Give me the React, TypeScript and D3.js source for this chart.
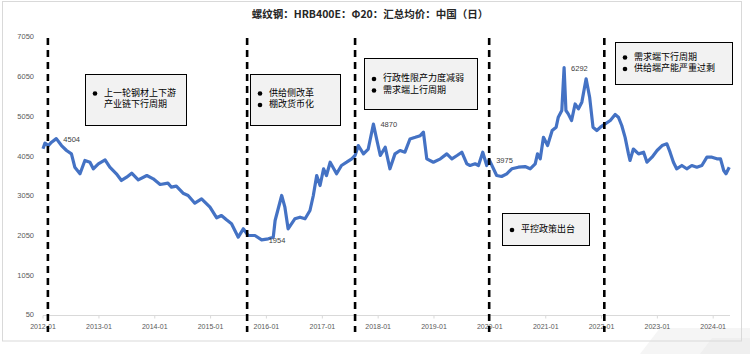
import * as d3 from 'd3';

const title = '螺纹钢：HRB400E：Φ20：汇总均价：中国（日）';

const dates = [
  '2012-01-01', '2012-01-14', '2012-02-05', '2012-02-26', '2012-03-28', '2012-05-01', '2012-06-03', '2012-07-05',
  '2012-07-27', '2012-08-30', '2012-10-01', '2012-11-03', '2012-11-25', '2012-12-28', '2013-02-10', '2013-03-13',
  '2013-04-25', '2013-05-28', '2013-07-01', '2013-08-03', '2013-09-15', '2013-11-10', '2013-12-22', '2014-02-05',
  '2014-03-28', '2014-04-20', '2014-05-22', '2014-07-05', '2014-08-07', '2014-09-20', '2014-11-03', '2014-12-28',
  '2015-02-10', '2015-03-13', '2015-04-15', '2015-05-18', '2015-07-01', '2015-08-03', '2015-09-04', '2015-10-18',
  '2015-12-01', '2016-01-13', '2016-02-15', '2016-02-27', '2016-04-10', '2016-05-01', '2016-05-22', '2016-07-05',
  '2016-08-08', '2016-09-10', '2016-10-12', '2016-11-03', '2016-11-25', '2016-12-17', '2017-01-09', '2017-01-28',
  '2017-02-21', '2017-04-04', '2017-05-06', '2017-06-09', '2017-07-12', '2017-08-03', '2017-08-24', '2017-09-27',
  '2017-10-28', '2017-12-01', '2017-12-24', '2018-01-15', '2018-02-16', '2018-03-19', '2018-04-21', '2018-05-24',
  '2018-06-25', '2018-07-28', '2018-09-01', '2018-10-03', '2018-10-24', '2018-11-15', '2018-12-28', '2019-02-12',
  '2019-03-26', '2019-04-28', '2019-06-01', '2019-07-02', '2019-08-04', '2019-08-25', '2019-09-27', '2019-10-19',
  '2019-11-16', '2019-12-12', '2019-12-28', '2020-02-15', '2020-03-18', '2020-04-21', '2020-05-24', '2020-07-06',
  '2020-08-19', '2020-09-21', '2020-10-24', '2020-11-08', '2020-11-26', '2020-12-17', '2021-01-13', '2021-02-12',
  '2021-03-10', '2021-03-24', '2021-04-16', '2021-05-01', '2021-05-13', '2021-05-28', '2021-06-19', '2021-07-12',
  '2021-08-03', '2021-08-25', '2021-09-22', '2021-10-15', '2021-11-06', '2021-12-01', '2021-12-25', '2022-01-25',
  '2022-02-27', '2022-03-31', '2022-04-21', '2022-05-13', '2022-06-04', '2022-06-26', '2022-07-06', '2022-07-28',
  '2022-08-31', '2022-10-03', '2022-10-25', '2022-11-27', '2022-12-30', '2023-02-01', '2023-03-04', '2023-03-25',
  '2023-04-16', '2023-05-07', '2023-06-10', '2023-07-12', '2023-08-14', '2023-09-16', '2023-10-19', '2023-11-21',
  '2023-12-24', '2024-01-25', '2024-02-18', '2024-03-10', '2024-03-25', '2024-04-15',
];

const prices = [
  4250, 4390, 4330, 4413, 4504, 4330, 4205, 4120,
  3784, 3618, 3953, 3910, 3744, 3870, 3970, 3784,
  3618, 3450, 3533, 3634, 3466, 3575, 3492, 3349,
  3382, 3281, 3306, 3130, 3072, 2878, 2988, 2778,
  2510, 2568, 2460, 2359, 2022, 2233, 2064, 2064,
  1954, 1980, 2022, 2442, 3072, 2778, 2233, 2485,
  2526, 2485, 2694, 3072, 3575, 3323, 3744, 3575,
  3910, 3618, 3827, 3910, 3995, 4079, 4330, 4120,
  4242, 4870, 4456, 4079, 4288, 3744, 4120, 4205,
  4162, 4494, 4536, 4578, 4666, 3995, 3910, 3995,
  4120, 3995, 4079, 4162, 3870, 3827, 3870, 3827,
  4162, 3827, 3975, 3575, 3550, 3618, 3744, 3784,
  3800, 3744, 3870, 4120, 3995, 4536, 4330, 4708,
  4792, 5043, 5212, 6292, 5212, 5127, 4960, 5376,
  5254, 5422, 6010, 5547, 4792, 4708, 4792, 4877,
  4960, 5111, 5043, 4834, 4536, 4120, 3953, 4242,
  4120, 4162, 3910, 4036, 4205, 4330, 4374, 4162,
  3910, 3744, 3827, 3744, 3827, 3784, 3827, 4036,
  4036, 3995, 3995, 3700, 3618, 3784,
];

// points that carry a value label
const labelledDates = ['2012-03-28', '2015-12-01', '2017-12-01', '2019-12-28', '2021-05-01'];

// cycle boundaries (dashed verticals)
const cycleBreaks = ['2012-02-02', '2015-08-28', '2017-08-03', '2019-12-28', '2022-01-19'];

const yTicks = [50, 1050, 2050, 3050, 4050, 5050, 6050, 7050];
const xTickYears = ['2012', '2013', '2014', '2015', '2016', '2017', '2018', '2019', '2020', '2021', '2022', '2023', '2024'];

const noteTexts = [
  [['上一轮钢材上下游', '产业链下行周期']],
  [['供给侧改革'], ['棚改货币化']],
  [['行政性限产力度减弱'], ['需求端上行周期']],
  [['平控政策出台']],
  [['需求端下行周期'], ['供给端产能严重过剩']],
];

// box layout: x, y, w, h, first text line y
const noteBoxes = [
  { x: 85.5, y: 74.5, w: 101, h: 51, ty: 93.5 },
  { x: 250.5, y: 74.5, w: 90, h: 51, ty: 93.5 },
  { x: 364.5, y: 58.5, w: 113, h: 51, ty: 79 },
  { x: 502.5, y: 213.5, w: 87, h: 32, ty: 230 },
  { x: 615.5, y: 42.5, w: 117, h: 42, ty: 57.5 },
];

const W = 750;
const H = 354;
const parse = d3.timeParse('%Y-%m-%d');
const cjk = '"Noto Sans CJK SC", "Noto Sans", sans-serif';
const latin = '"Liberation Sans", Arial, sans-serif';

export default function App() {
  const series = dates.map((d, i) => ({ key: d, date: parse(d)!, value: prices[i] }));

  const x = d3.scaleTime()
    .domain([parse('2012-01-01')!, parse('2024-04-20')!])
    .range([43, 730]);
  const y = d3.scaleLinear().domain([50, 7050]).range([315.5, 37.5]);

  const line = d3.line<{ date: Date; value: number }>()
    .x(d => x(d.date))
    .y(d => y(d.value));

  const axisY = y(50);

  return (
    <svg width={W} height={H} style={{ display: 'block', background: '#fff' }}>
      <style>{'body{margin:0}'}</style>

      {/* faint watermark bottom right */}
      <polygon points="640,354 660,328 750,328 750,354" fill="#f5f5f5" />
      <polygon points="700,354 712,338 750,338 750,354" fill="#efefef" />

      {/* outer frame */}
      <rect x={2.5} y={1.5} width={739} height={339.5} fill="none" stroke="#d9d9d9" />

      <text x={370} y={15} textAnchor="middle" dominantBaseline="middle"
        fontFamily={cjk} fontWeight="bold" fontSize={10.5} fill="#262626">{title}</text>

      {/* y tick labels */}
      {yTicks.map(t => (
        <text key={t} x={34} y={y(t)} textAnchor="end" dominantBaseline="middle"
          fontFamily={latin} fontSize={7.5} fill="#595959">{t}</text>
      ))}

      {/* x axis */}
      <line x1={x.range()[0]} x2={x.range()[1]} y1={axisY} y2={axisY} stroke="#d9d9d9" strokeWidth={1} />
      {xTickYears.map(yr => {
        const px = x(parse(`${yr}-01-01`)!);
        return (
          <g key={yr}>
            <line x1={px} x2={px} y1={axisY} y2={axisY + 3} stroke="#d9d9d9" />
            <text x={px} y={327} textAnchor="middle" dominantBaseline="middle"
              fontFamily={latin} fontSize={7} fill="#595959">{`${yr}-01`}</text>
          </g>
        );
      })}

      {/* price line */}
      <path d={line(series) ?? ''} fill="none" stroke="#4472C4" strokeWidth={3.2} strokeLinejoin="round" />

      {/* dashed cycle boundaries */}
      {cycleBreaks.map(d => {
        const px = x(parse(d)!);
        return <line key={d} x1={px} x2={px} y1={38} y2={332} stroke="#000" strokeWidth={2.6} strokeDasharray="7,5" />;
      })}

      {/* value labels */}
      {labelledDates.map(d => {
        const p = series.find(s => s.key === d)!;
        return (
          <text key={d} x={x(p.date) + 7} y={y(p.value) + 1} dominantBaseline="middle"
            fontFamily={latin} fontSize={7.5} fill="#404040">{p.value}</text>
        );
      })}

      {/* annotation boxes */}
      {noteBoxes.map((b, i) => {
        let lineIdx = 0;
        return (
          <g key={i}>
            <rect x={b.x} y={b.y} width={b.w} height={b.h} fill="#f2f2f2" stroke="#000" strokeWidth={1} />
            {noteTexts[i].map((item, j) => {
              const startIdx = lineIdx;
              lineIdx += item.length;
              return (
                <g key={j}>
                  <circle cx={b.x + 9.5} cy={b.ty + startIdx * 11.5} r={2.3} fill="#000" />
                  {item.map((t, k) => (
                    <text key={k} x={b.x + 18.5} y={b.ty + (startIdx + k) * 11.5} dominantBaseline="middle"
                      fontFamily={cjk} fontSize={9} fill="#000">{t}</text>
                  ))}
                </g>
              );
            })}
          </g>
        );
      })}
    </svg>
  );
}
